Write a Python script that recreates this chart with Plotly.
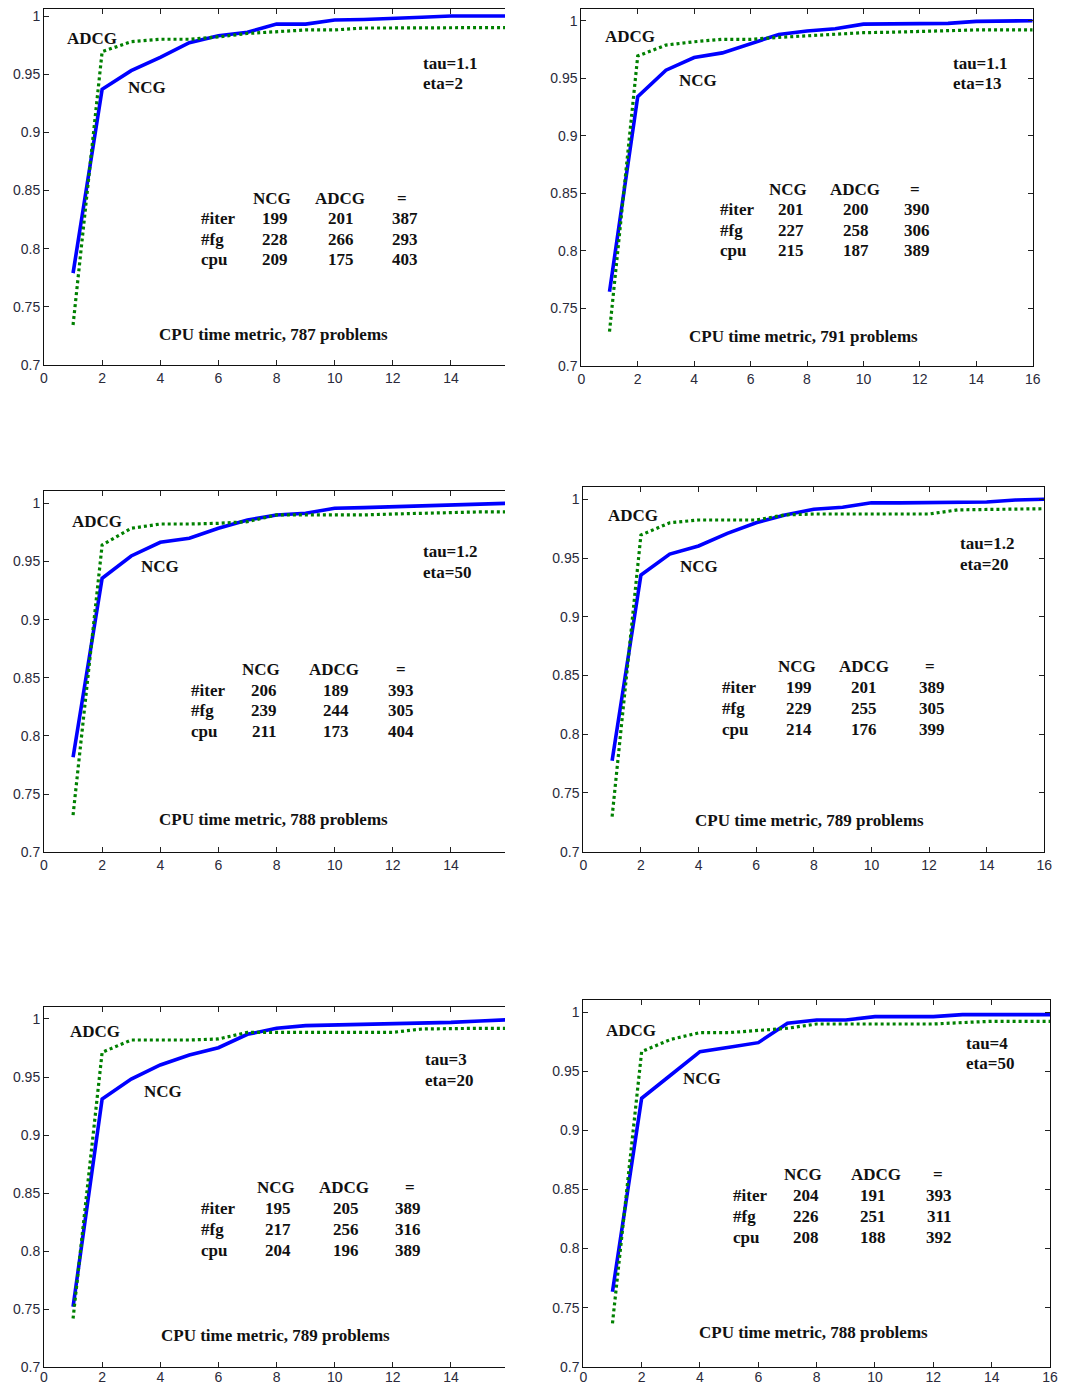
import plotly.graph_objects as go

# the page body has an 8px margin, so the figure is sized to fill the rest of the window
OFF = 8
W, H = 1073 - OFF, 1386 - OFF

# ---------------- data ----------------
x_vals = list(range(1, 17))

ncg_p1 = [0.779, 0.937, 0.953, 0.9645, 0.977, 0.983, 0.986, 0.993, 0.993, 0.9966, 0.997, 0.9977, 0.9989, 1.0, 1.0, 1.0]
adcg_p1 = [0.7344, 0.9693, 0.978, 0.980, 0.980, 0.982, 0.985, 0.9865, 0.988, 0.988, 0.9897, 0.9897, 0.990, 0.990, 0.990, 0.990]

ncg_p2 = [0.7643, 0.934, 0.957, 0.968, 0.972, 0.980, 0.988, 0.991, 0.993, 0.997, 0.997, 0.997, 0.9977, 0.9994, 1.0, 1.0]
adcg_p2 = [0.7296, 0.9693, 0.9788, 0.9817, 0.9838, 0.9838, 0.9855, 0.9867, 0.9884, 0.9896, 0.990, 0.9907, 0.9913, 0.992, 0.992, 0.992]

ncg_p3 = [0.7817, 0.9355, 0.9547, 0.9665, 0.970, 0.9785, 0.9857, 0.990, 0.9914, 0.9957, 0.9963, 0.9971, 0.9977, 0.998, 0.9994, 1.0]
adcg_p3 = [0.732, 0.9642, 0.9785, 0.9822, 0.9822, 0.9828, 0.9842, 0.990, 0.990, 0.990, 0.990, 0.9908, 0.9914, 0.9926, 0.9926, 0.9926]

ncg_p4 = [0.7775, 0.9356, 0.9534, 0.9603, 0.971, 0.980, 0.9867, 0.9915, 0.9932, 0.997, 0.997, 0.997, 0.997, 0.9977, 0.9994, 1.0]
adcg_p4 = [0.7298, 0.9696, 0.980, 0.9824, 0.9824, 0.9824, 0.9867, 0.9875, 0.9875, 0.9875, 0.9875, 0.9875, 0.991, 0.9915, 0.992, 0.992]

ncg_p5 = [0.7522, 0.9311, 0.9483, 0.9604, 0.969, 0.9753, 0.9868, 0.992, 0.9943, 0.9948, 0.9954, 0.996, 0.996, 0.9971, 0.9983, 0.9994]
adcg_p5 = [0.742, 0.9713, 0.9819, 0.9819, 0.9819, 0.9828, 0.9885, 0.9885, 0.9885, 0.9885, 0.9885, 0.9885, 0.9914, 0.992, 0.992, 0.992]

ncg_p6 = [0.7635, 0.9272, 0.9469, 0.9667, 0.9704, 0.9743, 0.9907, 0.9935, 0.9935, 0.9963, 0.9963, 0.9963, 0.998, 0.998, 0.998, 0.998]
adcg_p6 = [0.7367, 0.9667, 0.9771, 0.9828, 0.9828, 0.9845, 0.9865, 0.9901, 0.9901, 0.9901, 0.9901, 0.9901, 0.9913, 0.9924, 0.9924, 0.9924]

tau_labels = ["tau=1.1", "tau=1.1", "tau=1.2", "tau=1.2", "tau=3", "tau=4"]
eta_labels = ["eta=2", "eta=13", "eta=50", "eta=20", "eta=20", "eta=50"]
problem_counts = [787, 791, 788, 789, 789, 788]

table_cols = ["NCG", "ADCG", "="]
table_rows = ["#iter", "#fg", "cpu"]
iter_vals = [[199, 201, 387], [201, 200, 390], [206, 189, 393], [199, 201, 389], [195, 205, 389], [204, 191, 393]]
fg_vals = [[228, 266, 293], [227, 258, 306], [239, 244, 305], [229, 255, 305], [217, 256, 316], [226, 251, 311]]
cpu_vals = [[209, 175, 403], [215, 187, 389], [211, 173, 404], [214, 176, 399], [204, 196, 389], [208, 188, 392]]

y_tick_vals = [0.7, 0.75, 0.8, 0.85, 0.9, 0.95, 1.0]
y_tick_text = ["0.7", "0.75", "0.8", "0.85", "0.9", "0.95", "1"]
x_tick_vals = [0, 2, 4, 6, 8, 10, 12, 14, 16]

ncg_series = [ncg_p1, ncg_p2, ncg_p3, ncg_p4, ncg_p5, ncg_p6]
adcg_series = [adcg_p1, adcg_p2, adcg_p3, adcg_p4, adcg_p5, adcg_p6]

# ---------------- layout geometry (window pixels) ----------------
# (x0_px, xright_px, xmax, y07_px, y1_px, mirror_right, bottom_row)
geom = [
    (44.0, 505.0, 15.86, 365.0, 16.0, False, False),
    (581.3, 1032.7, 16.0, 365.7, 20.7, True, False),
    (44.0, 505.0, 15.86, 852.3, 503.3, False, False),
    (583.3, 1044.3, 16.0, 851.7, 499.3, True, False),
    (44.0, 505.0, 15.86, 1367.3, 1019.0, False, True),
    (583.3, 1050.0, 16.0, 1366.7, 1012.3, True, True),
]
YMAX = 1.0105

text_pos = [
    dict(adcg=(1.66, 0.9808), ncg=(3.54, 0.9387), tau=(12.98, 0.9593), eta_y=0.942, head_y=0.8433,
         head_x=(7.86, 10.2, 12.33), lab_x=5.33, row_y=(0.8255, 0.808, 0.7903), val_x=(7.95, 10.23, 12.41), title=(7.88, 0.7258)),
    dict(adcg=(1.73, 0.9861), ncg=(4.15, 0.9484), tau=(13.1, 0.9629), eta_y=0.9455, head_y=0.8533,
         head_x=(7.34, 9.7, 11.83), lab_x=4.86, row_y=(0.8354, 0.8174, 0.80), val_x=(7.42, 9.73, 11.89), title=(7.87, 0.7258)),
    dict(adcg=(1.82, 0.9842), ncg=(3.98, 0.9461), tau=(12.98, 0.9585), eta_y=0.9407, head_y=0.8573,
         head_x=(7.48, 9.98, 12.27), lab_x=4.98, row_y=(0.8395, 0.8215, 0.8037), val_x=(7.57, 10.03, 12.29), title=(7.9, 0.7278)),
    dict(adcg=(1.74, 0.9858), ncg=(4.03, 0.9432), tau=(13.0, 0.962), eta_y=0.9441, head_y=0.8575,
         head_x=(7.41, 9.75, 12.04), lab_x=4.75, row_y=(0.8399, 0.822, 0.8041), val_x=(7.5, 9.75, 12.1), title=(7.85, 0.7269)),
    dict(adcg=(1.74, 0.9891), ncg=(4.09, 0.9374), tau=(13.04, 0.9647), eta_y=0.9466, head_y=0.8547,
         head_x=(7.97, 10.31, 12.6), lab_x=5.32, row_y=(0.8369, 0.8188, 0.801), val_x=(8.05, 10.38, 12.52), title=(7.96, 0.7272)),
    dict(adcg=(1.62, 0.9845), ncg=(4.08, 0.9441), tau=(13.06, 0.9738), eta_y=0.9563, head_y=0.8628,
         head_x=(7.54, 10.03, 12.17), lab_x=5.05, row_y=(0.8445, 0.827, 0.8092), val_x=(7.63, 9.92, 12.2), title=(7.89, 0.729)),
]

BLUE = "#0000ff"
GREEN = "#008000"
TXT_FONT = dict(family="Liberation Serif, Times New Roman, serif", size=17, color="#111111", weight="bold")
TICK_FONT = dict(family="Liberation Sans, Arial, sans-serif", size=14, color="#2a2a3a")

fig = go.Figure()
annotations = []
layout_axes = {}

for i in range(6):
    suf = "" if i == 0 else str(i + 1)
    xa, ya = "x" + suf, "y" + suf
    x0, xr, xmax, y07, y1, mirror_right, bottom_row = geom[i]
    x0, xr, y07, y1 = x0 - OFF, xr - OFF, y07 - OFF, y1 - OFF
    ppu = (y07 - y1) / 0.3
    ytop = max(1.0, y1 - (YMAX - 1.0) * ppu)
    ymax = 1.0 + (y1 - ytop) / ppu

    fig.add_trace(go.Scatter(x=x_vals, y=ncg_series[i], xaxis=xa, yaxis=ya, mode="lines",
                             line=dict(color=BLUE, width=3.6), showlegend=False, hoverinfo="skip"))
    fig.add_trace(go.Scatter(x=x_vals, y=adcg_series[i], xaxis=xa, yaxis=ya, mode="lines",
                             line=dict(color=GREEN, width=3.2, dash="3px,3px"), showlegend=False, hoverinfo="skip"))

    layout_axes["xaxis" + suf] = dict(
        domain=[x0 / W, min(1.0, xr / W)], range=[0, xmax], anchor=ya, automargin=False,
        tickvals=x_tick_vals, ticks="inside", ticklen=5, tickcolor="#222",
        showline=True, linecolor="#111", linewidth=1, mirror="ticks",
        showgrid=False, zeroline=False, tickfont=TICK_FONT, fixedrange=True,
        ticklabeloverflow="allow", ticklabelstandoff=-3 if bottom_row else 0,
    )
    layout_axes["yaxis" + suf] = dict(
        domain=[1 - y07 / H, 1 - ytop / H], range=[0.7, ymax], anchor=xa, automargin=False,
        tickvals=y_tick_vals, ticktext=y_tick_text, ticks="inside", ticklen=5, tickcolor="#222",
        showline=True, linecolor="#111", linewidth=1, mirror="ticks" if mirror_right else False,
        showgrid=False, zeroline=False, tickfont=TICK_FONT, fixedrange=True,
        ticklabeloverflow="allow",
    )

    tp = text_pos[i]

    def ann(text, x, y, xanchor="center"):
        annotations.append(dict(text=text, x=x, y=y, xref=xa, yref=ya, showarrow=False,
                                xanchor=xanchor, yanchor="middle", font=TXT_FONT))

    ann("ADCG", *tp["adcg"])
    ann("NCG", *tp["ncg"])
    ann(tau_labels[i], tp["tau"][0], tp["tau"][1], "left")
    ann(eta_labels[i], tp["tau"][0], tp["eta_y"], "left")
    for c, name in enumerate(table_cols):
        ann(name, tp["head_x"][c], tp["head_y"])
    row_data = [iter_vals[i], fg_vals[i], cpu_vals[i]]
    for r, lab in enumerate(table_rows):
        ann(lab, tp["lab_x"], tp["row_y"][r], "left")
        for c in range(3):
            ann(str(row_data[r][c]), tp["val_x"][c], tp["row_y"][r])
    ann(f"CPU time metric, {problem_counts[i]} problems", *tp["title"])

fig.update_layout(
    width=W, height=H,
    margin=dict(l=0, r=0, t=0, b=0),
    paper_bgcolor="white", plot_bgcolor="white",
    showlegend=False,
    annotations=annotations,
    **layout_axes,
)

fig.write_html("out.html")
